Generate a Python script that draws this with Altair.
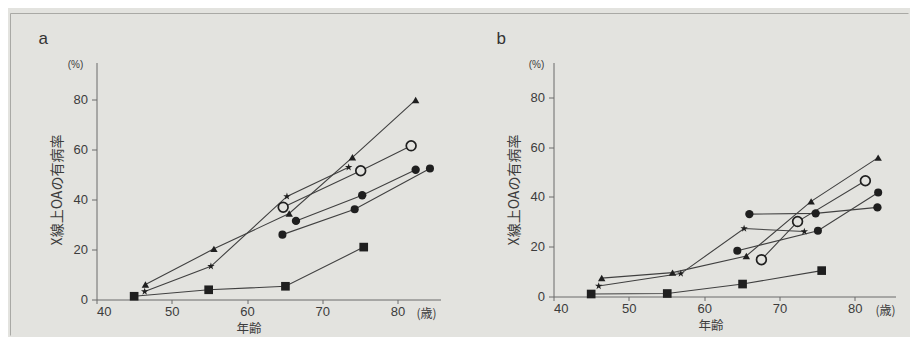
import altair as alt
import pandas as pd

# ---------------- data ----------------
# Panel a
a_tri_x = [46.5, 55.6, 65.6, 74.0, 82.4]
a_tri_y = [6.0, 20.3, 34.5, 57.0, 80.0]
a_star_x = [46.4, 55.2, 65.3, 73.5]
a_star_y = [3.2, 13.3, 41.3, 53.0]
a_open_x = [64.8, 75.1, 81.8]
a_open_y = [37.0, 51.6, 61.6]
a_dotA_x = [64.7, 74.3, 84.3]
a_dotA_y = [26.0, 36.2, 52.5]
a_dotB_x = [66.5, 75.3, 82.4]
a_dotB_y = [31.5, 41.8, 52.0]
a_sq_x = [45.0, 54.9, 65.1, 75.5]
a_sq_y = [1.3, 3.9, 5.3, 21.0]

# Panel b
b_tri_x = [46.4, 55.8, 65.6, 74.2, 83.1]
b_tri_y = [7.4, 9.6, 16.3, 38.2, 55.8]
b_star_x = [46.0, 56.9, 65.3, 73.3]
b_star_y = [4.2, 9.2, 27.3, 26.1]
b_open_x = [67.6, 72.4, 81.4]
b_open_y = [14.8, 30.1, 46.5]
b_dotA_x = [64.4, 75.1, 83.1]
b_dotA_y = [18.4, 26.4, 41.8]
b_dotB_x = [66.0, 74.8, 83.0]
b_dotB_y = [33.1, 33.4, 35.8]
b_sq_x = [45.0, 55.1, 65.1, 75.6]
b_sq_y = [1.0, 1.2, 5.0, 10.4]

x_ticks = [40, 50, 60, 70, 80]
y_ticks = [0, 10, 20, 30, 40, 50, 60, 70, 80, 90]
panel_letters = ["a", "b"]
y_title = "X線上OAの有病率"
x_title = "年齢"
y_unit = "(%)"
x_unit = "(歳)"

series_names = ["tri", "star", "dotA", "dotB", "square"]
STAR = ("M0,-1L0.2245,-0.309L0.951,-0.309L0.363,0.118L0.588,0.809L0,0.382"
        "L-0.588,0.809L-0.363,0.118L-0.951,-0.309L-0.2245,-0.309Z")
series_shapes = ["triangle-up", STAR, "circle", "circle", "square"]
series_sizes = [55, 75, 62, 62, 75]


def build(prefix, tri, star, opn, dA, dB, sq):
    rows = []
    for name, (xs, ys) in zip(["tri", "star", "open", "dotA", "dotB", "square"],
                              [tri, star, opn, dA, dB, sq]):
        for i, (x, y) in enumerate(zip(xs, ys)):
            rows.append({"series": prefix + name, "kind": name, "x": x, "y": y, "i": i})
    return pd.DataFrame(rows)


df_a = build("a_", (a_tri_x, a_tri_y), (a_star_x, a_star_y), (a_open_x, a_open_y),
             (a_dotA_x, a_dotA_y), (a_dotB_x, a_dotB_y), (a_sq_x, a_sq_y))
df_b = build("b_", (b_tri_x, b_tri_y), (b_star_x, b_star_y), (b_open_x, b_open_y),
             (b_dotA_x, b_dotA_y), (b_dotB_x, b_dotB_y), (b_sq_x, b_sq_y))

BG = "#e3e3df"
INK = "#1f1f1f"
LINE = "#404040"
TXT = "#3c3c3c"
FRAME = "#a9a9a5"
JP = "Noto Sans CJK JP"
LAT = "Liberation Sans"


def panel(df, letter, width, height, xmax, ymax, letter_dx, title_x, pct_dx,
          unit_dx, frame):
    xs = alt.Scale(domain=[40, xmax], nice=False, zero=False)
    ys = alt.Scale(domain=[0, ymax], nice=False)
    xax = alt.Axis(values=x_ticks, title=x_title, titleX=title_x, titleY=23,
                   titleFont=JP, titleFontSize=12.5, titleFontWeight="normal",
                   titleColor=TXT, labelFont=LAT, labelFontSize=13,
                   labelColor=TXT, tickSize=4, labelPadding=2, grid=False,
                   domainColor="#6a6a6a", tickColor="#6a6a6a")
    yax = alt.Axis(values=y_ticks, title=y_title, titleY=127,
                   labelExpr="datum.value % 20 == 0 ? datum.label : ''",
                   titleFont=JP, titleFontSize=14, titleFontWeight="normal",
                   titleColor=TXT, titlePadding=9, labelFont=LAT,
                   labelFontSize=13, labelColor=TXT, tickSize=5,
                   labelPadding=4, grid=False,
                   domainColor="#6a6a6a", tickColor="#6a6a6a")
    base = alt.Chart(df)
    lines = base.mark_line(color=LINE, strokeWidth=1.1).encode(
        x=alt.X("x:Q", scale=xs, axis=xax),
        y=alt.Y("y:Q", scale=ys, axis=yax),
        detail="series:N",
        order="i:Q",
    )
    filled = base.transform_filter(alt.datum.kind != "open").mark_point(
        filled=True, color=INK, opacity=1).encode(
        x="x:Q", y="y:Q",
        shape=alt.Shape("kind:N", scale=alt.Scale(domain=series_names, range=series_shapes), legend=None),
        size=alt.Size("kind:N", scale=alt.Scale(domain=series_names, range=series_sizes), legend=None),
    )
    opn = base.transform_filter(alt.datum.kind == "open").mark_point(
        shape="circle", filled=True, fill=BG, stroke=INK, strokeWidth=1.7,
        size=95, opacity=1).encode(x="x:Q", y="y:Q")

    lab = pd.DataFrame({"t": [letter]})
    t_letter = alt.Chart(lab).mark_text(
        font=LAT, fontSize=17, color="#333333", align="left", baseline="middle"
    ).encode(x=alt.value(letter_dx), y=alt.value(-24), text="t:N")
    t_pct = alt.Chart(pd.DataFrame({"t": [y_unit]})).mark_text(
        font=LAT, fontSize=10, color=TXT, align="center", baseline="middle"
    ).encode(x=alt.value(pct_dx), y=alt.value(2), text="t:N")
    t_age = alt.Chart(pd.DataFrame({"t": [x_unit]})).mark_text(
        font=JP, fontSize=12, color=TXT, align="center", baseline="middle"
    ).encode(x=alt.value(unit_dx), y=alt.value(height + 14), text="t:N")
    layers = [lines, filled, opn, t_letter, t_pct, t_age]
    if frame:
        top_rule = alt.Chart(lab).mark_rule(color=FRAME, strokeWidth=1).encode(
            x=alt.value(-86), x2=alt.value(812), y=alt.value(-49))
        left_rule = alt.Chart(lab).mark_rule(color=FRAME, strokeWidth=1).encode(
            x=alt.value(-86), y=alt.value(-49), y2=alt.value(273))
        layers = [top_rule, left_rule] + layers
    return alt.layer(*layers).properties(width=width, height=height)


pa = panel(df_a, panel_letters[0], 344, 237, 85.7, 95, -58, 152, -21, 330, True)
pb = panel(df_b, panel_letters[1], 342, 234, 85.4, 94, -57, 157, -17, 332, False)

chart = alt.hconcat(pa, pb, spacing=113, bounds="flush").properties(
    background=BG,
    padding={"left": 1.5, "top": 4.5, "right": 0, "bottom": 0},
).configure_view(stroke=None)

chart.save("out.html", embed_options={"renderer": "svg", "actions": False})
